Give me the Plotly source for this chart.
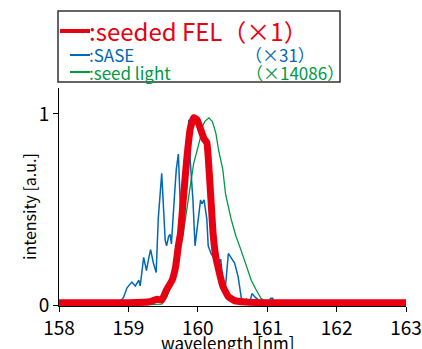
import plotly.graph_objects as go

# seeded FEL (x1)
fel_x = [158.0, 158.5, 159.0, 159.31, 159.41, 159.48, 159.55, 159.63, 159.68, 159.72, 159.75,
         159.79, 159.84, 159.89, 159.94, 159.99, 160.04, 160.09, 160.13, 160.16, 160.19, 160.22,
         160.26, 160.31, 160.36, 160.44, 160.53, 160.68, 161.0, 162.0, 163.0]
fel_y = [0.012, 0.012, 0.012, 0.017, 0.03, 0.026, 0.08, 0.13, 0.2, 0.31, 0.375,
         0.55, 0.76, 0.92, 0.98, 0.97, 0.92, 0.87, 0.85, 0.72, 0.55, 0.375,
         0.25, 0.17, 0.1, 0.044, 0.023, 0.016, 0.012, 0.012, 0.012]

# SASE (x31)
sase_x = [158.0, 158.74, 158.79, 158.84, 158.93, 158.98, 159.05, 159.1, 159.15, 159.17, 159.22,
          159.26, 159.29, 159.32, 159.36, 159.4, 159.43, 159.48, 159.5, 159.53, 159.55, 159.58,
          159.6, 159.62, 159.66, 159.69, 159.72, 159.75, 159.79, 159.83, 159.87, 159.89, 159.93,
          159.96, 160.0, 160.04, 160.06, 160.09, 160.13, 160.15, 160.19, 160.24, 160.28, 160.33,
          160.36, 160.4, 160.44, 160.49, 160.53, 160.58, 160.63, 160.66, 160.7, 160.74, 160.78,
          160.83, 160.88, 160.93, 161.0, 161.05, 161.08, 161.1, 162.0, 163.0]
sase_y = [0.0, 0.0, 0.02, 0.0, 0.04, 0.09, 0.12, 0.1, 0.13, 0.1, 0.25,
          0.18, 0.24, 0.29, 0.22, 0.17, 0.45, 0.69, 0.55, 0.34, 0.31, 0.36,
          0.37, 0.32, 0.55, 0.71, 0.79, 0.5, 0.5, 0.64, 0.97, 0.76, 0.55,
          0.31, 0.43, 0.55, 0.53, 0.55, 0.45, 0.31, 0.27, 0.24, 0.2, 0.24,
          0.13, 0.1, 0.27, 0.24, 0.22, 0.15, 0.03, 0.01, 0.03, 0.0, 0.06,
          0.04, 0.025, 0.01, 0.005, 0.035, 0.035, 0.0, 0.0, 0.0]

# seed light (x14086)
seed_x = [158.0, 159.0, 159.48, 159.55, 159.65, 159.72, 159.79, 159.84, 159.89, 159.94, 159.99,
          160.04, 160.06, 160.1, 160.16, 160.21, 160.26, 160.3, 160.36, 160.4, 160.48, 160.55,
          160.62, 160.7, 160.77, 160.84, 160.91, 161.01, 161.05, 162.0, 163.0]
seed_y = [0.0, 0.0, 0.005, 0.04, 0.13, 0.24, 0.375, 0.5, 0.64, 0.74, 0.81,
          0.88, 0.93, 0.96, 0.98, 0.96, 0.9, 0.81, 0.71, 0.58, 0.45, 0.36,
          0.29, 0.2, 0.13, 0.08, 0.035, 0.01, 0.0, 0.0, 0.0]

x_ticks = [158, 159, 160, 161, 162, 163]
y_ticks = [0, 1]

RED = "#e60012"
BLUE = "#0068b7"
GREEN = "#009944"
FONT = "Noto Sans CJK JP"

fig = go.Figure()
fig.add_trace(go.Scatter(x=seed_x, y=seed_y, mode="lines", line=dict(color=GREEN, width=1.3),
                         showlegend=False))
fig.add_trace(go.Scatter(x=sase_x, y=sase_y, mode="lines", line=dict(color=BLUE, width=1.5),
                         showlegend=False))
fig.add_trace(go.Scatter(x=fel_x, y=fel_y, mode="lines",
                         line=dict(color=RED, width=7, shape="spline", smoothing=0.4),
                         showlegend=False))

W, H = 422, 349
L, R, T, B = 59, 16, 88, 43
pw, ph = W - L - R, H - T - B


def px(x):
    return (x - L) / pw


def py(y):
    return (H - B - y) / ph


shapes = [
    dict(type="rect", xref="paper", yref="paper", x0=px(58), x1=px(340), y0=py(82), y1=py(11),
         line=dict(color="#333333", width=1.5), fillcolor="white"),
    dict(type="line", xref="paper", yref="paper", x0=px(60), x1=px(90), y0=py(31), y1=py(31),
         line=dict(color=RED, width=4)),
    dict(type="line", xref="paper", yref="paper", x0=px(70), x1=px(90), y0=py(55), y1=py(55),
         line=dict(color=BLUE, width=2)),
    dict(type="line", xref="paper", yref="paper", x0=px(70), x1=px(90), y0=py(72), y1=py(72),
         line=dict(color=GREEN, width=2)),
]


def ann(text, x, y, color, size, xanchor="left", angle=0):
    return dict(text=text, xref="paper", yref="paper", x=px(x), y=py(y), xanchor=xanchor,
                yanchor="middle", showarrow=False, textangle=angle,
                font=dict(color=color, size=size, family=FONT), borderpad=0)


annotations = [
    ann(":seeded FEL（×1）", 88, 31, RED, 24),
    ann(":SASE", 88, 55, BLUE, 17),
    ann("（×31）", 244, 55, BLUE, 17),
    ann(":seed light", 88, 72, GREEN, 17),
    ann("（×14086）", 245, 72, GREEN, 17),
    ann("wavelength [nm]", 228, 342, "black", 17, xanchor="center"),
    ann("intensity [a.u.]", 29, 207, "black", 16, xanchor="center", angle=-90),
]

fig.update_layout(
    width=W, height=H,
    margin=dict(l=L, r=R, t=T, b=B, autoexpand=False),
    paper_bgcolor="white", plot_bgcolor="white",
    font=dict(family=FONT, color="black", size=19),
    shapes=shapes, annotations=annotations,
    showlegend=False,
)
fig.update_xaxes(range=[158, 163], tickvals=x_ticks, ticks="outside", ticklen=5, tickcolor="black",
                 showline=True, linecolor="black", linewidth=1, showgrid=False, zeroline=False,
                 automargin=False, tickfont=dict(size=19))
fig.update_yaxes(range=[-0.005, 1.136], tickvals=y_ticks, ticks="outside", ticklen=5, tickcolor="black",
                 showline=True, linecolor="black", linewidth=1, showgrid=False, zeroline=False,
                 automargin=False, tickfont=dict(size=19))

fig.write_html("out.html", config={"displayModeBar": False},
               post_script="document.body.style.margin='0px';")
